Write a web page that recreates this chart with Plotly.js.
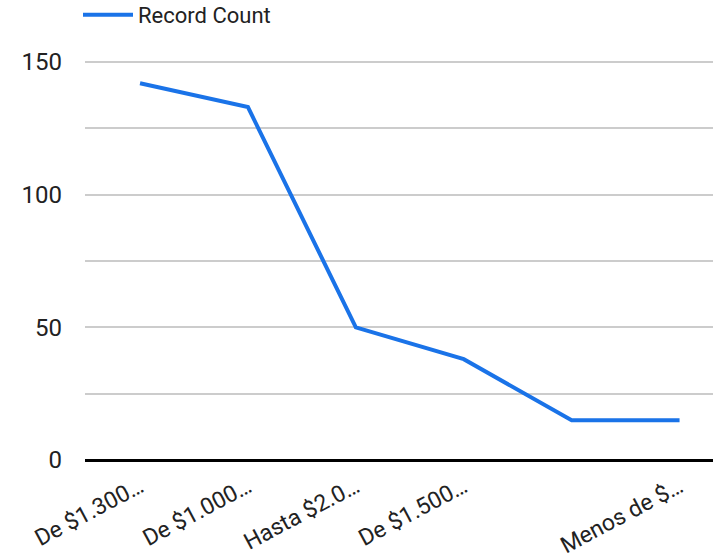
<!DOCTYPE html>
<html>
<head>
<meta charset="utf-8">
<script src="https://cdn.plot.ly/plotly-3.0.1.min.js"></script>
<style>html,body{margin:0;padding:0;background:#fff;}#chart{width:721px;height:559px;}</style>
</head>
<body>
<div id="chart"></div>
<script>
const categories = ["De $1.300…", "De $1.000…", "Hasta $2.0…", "De $1.500…", "De $500…", "Menos de $…"];
const recordCount = [142, 133, 50, 38, 15, 15];
const shownTickIdx = [0, 1, 2, 3, 5];
const yTicks = [0, 50, 100, 150];

const xIdx = categories.map((c, i) => i);

const trace = {
  x: xIdx,
  y: recordCount,
  type: 'scatter',
  mode: 'lines',
  name: 'Record Count',
  line: {color: '#1a73e8', width: 4},
  text: categories,
  hovertemplate: '%{text}: %{y}<extra></extra>'
};

const layout = {
  width: 721, height: 559,
  margin: {l: 85, r: 8, t: 62, b: 99, autoexpand: false},
  paper_bgcolor: '#fff', plot_bgcolor: '#fff',
  font: {family: 'Roboto, Arial, sans-serif', color: '#222'},
  showlegend: true,
  legend: {
    orientation: 'h', xref: 'container', yref: 'paper',
    x: 78 / 721, xanchor: 'left', y: 1 + 68 / 398, yanchor: 'top',
    itemwidth: 50,
    font: {size: 22, color: '#222'}, bgcolor: 'rgba(0,0,0,0)'
  },
  xaxis: {
    range: [-0.51, 5.31],
    tickvals: shownTickIdx,
    ticktext: shownTickIdx.map(i => categories[i]),
    tickangle: -28,
    tickfont: {size: 23, color: '#222'},
    showgrid: false, zeroline: false, showline: false, ticks: '',
    ticklabelstandoff: 8
  },
  yaxis: {
    range: [0, 150],
    tickvals: yTicks,
    tickfont: {size: 24, color: '#222'},
    showgrid: true, gridcolor: '#cccccc', gridwidth: 2,
    minor: {dtick: 25, showgrid: true, gridcolor: '#cccccc', gridwidth: 2},
    zeroline: true, zerolinecolor: '#000000', zerolinewidth: 3,
    ticks: '',
    ticklabelstandoff: 22
  },
  shapes: [
    {type: 'line', xref: 'paper', yref: 'paper', x0: 0, x1: 1, y0: 1, y1: 1,
     line: {color: '#cccccc', width: 2}, layer: 'below'}
  ]
};

Plotly.newPlot('chart', [trace], layout, {displayModeBar: false, staticPlot: true});
</script>
</body>
</html>
